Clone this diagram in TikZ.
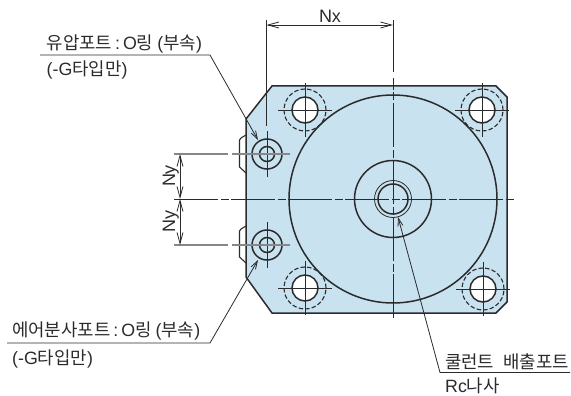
\documentclass[tikz,border=0pt]{standalone}
\usepackage{fontspec}
\setmainfont{Liberation Sans}
\newfontfamily\krfont{Noto Sans CJK KR}
\newcommand{\kr}[1]{{\krfont #1}}
\usetikzlibrary{arrows.meta}
\definecolor{bodyblue}{HTML}{C9E2F0}
\definecolor{inkline}{HTML}{2B2B2D}
\definecolor{greyline}{HTML}{85878A}
\tikzset{
  every node/.style={font=\fontsize{17.8}{20}\selectfont, text=inkline, inner sep=0pt},
  outline/.style={draw=inkline, line width=1.5pt},
  thinline/.style={draw=inkline, line width=0.8pt},
  extline/.style={draw=greyline, line width=1.3pt},
  centerline/.style={draw=inkline, line width=0.9pt, dash pattern=on 44pt off 2.5pt on 8pt off 2.5pt},
  hiddenline/.style={draw=inkline, line width=1.1pt, dash pattern=on 4.4pt off 2.2pt},
  leader/.style={thinline, -{Straight Barb[length=8pt,width=5pt]}},
  dimline/.style={draw=inkline, line width=0.8pt, {Straight Barb[length=11pt,width=6pt]}-{Straight Barb[length=11pt,width=6pt]}},
}
\begin{document}
\begin{tikzpicture}[x=1pt, y=-1pt]
  \useasboundingbox (0,0) rectangle (571,396);

  % body
  \draw [outline, fill=bodyblue] (246,119) -- (272,86) -- (496,86) -- (507,97) -- (507,302)
    -- (496,313) -- (272,313) -- (246,277) -- cycle;
  \foreach \ya/\yb in {135/173, 226/263}{
    \draw [outline, line width=1.1pt] (246,\ya) -- (241,\ya+3) -- (239.5,\ya+5) -- (239.5,\yb-6) -- (246,\yb);
  }

  % main bore
  \draw [outline] (393,199) circle (104pt);
  \draw [outline] (393,199) circle (38.5pt);
  \draw [outline] (393,199) circle (15pt);
  \draw [thinline] (393,199) circle (18.5pt);

  % mounting holes
  \foreach \n/\x/\y in {tl/305/110, tr/482/110, bl/305/288, br/483/289}{
    \draw [outline, fill=white] (\x,\y) circle (13pt);
    \draw [hiddenline] (\x,\y) circle (21pt);
    \coordinate (h\n) at (\x,\y);
    \draw [thinline] ([xshift=-27pt]h\n) -- ([xshift=27pt]h\n);
    \draw [thinline] ([yshift=-27pt]h\n) -- ([yshift=27pt]h\n);
  }

  % ports
  \foreach \n/\y in {pu/154, pl/245}{
    \coordinate (\n) at (267,\y);
    \draw [outline] (\n) circle (15pt);
    \draw [outline] (\n) circle (7.5pt);
    \draw [thinline] ([yshift=-23pt]\n) -- ([yshift=23pt]\n);
  }

  % center lines
  \coordinate (cc) at (393,199);
  \coordinate (ctop) at (393,20);
  \draw [centerline] (174,199) -- (514,199);
  \draw [thinline] (ctop) -- (393,72);
  \draw [centerline] (393,318) -- (393,78);
  \draw [thinline] (266.5,20) -- (266.5,126);

  % dimensions
  \coordinate (nxl) at (266.5,25);
  \coordinate (nxr) at (393,25);
  \draw [dimline] (nxl) -- (nxr);
  \node [anchor=base] (nxlabel) at (330,22.5) {\fontsize{18}{20}\selectfont Nx};

  \foreach \n/\y in {nu/154, nc/199, nl/245}{
    \coordinate (\n) at (180,\y);
  }
  \draw [extline] (174,154) -- (228,154);
  \draw [extline] (232,154) -- (290,154);
  \draw [extline] (174,245) -- (228,245);
  \draw [extline] (232,245) -- (290,245);
  \draw [dimline] (nu) -- (nc);
  \draw [dimline] (nc) -- (nl);
  \node [rotate=90, anchor=base] (nyu) at (175,176) {\fontsize{18}{20}\selectfont Ny};
  \node [rotate=90, anchor=base] (nyl) at (175,221) {\fontsize{18}{20}\selectfont Ny};

  % labels
  \node [anchor=base west] (hydlabel) at (46.5,49.5) {\kr{유압포트}\hspace{3pt}:\hspace{3pt}O\kr{링}\hspace{4pt}(\kr{부속})};
  \node [anchor=base west] (hydnote) at (46.5,76) {(-G\kr{타입만})};
  \node [anchor=base west] (airlabel) at (12,336.5) {\kr{에어분사포트}\hspace{3pt}:\hspace{3pt}O\kr{링}\hspace{4pt}(\kr{부속})};
  \node [anchor=base west] (airnote) at (12,364.5) {(-G\kr{타입만})};
  \node [anchor=base west] (coollabel) at (445,368) {\kr{쿨런트}\hspace{9pt}\kr{배출포트}};
  \node [anchor=base west] (coolnote) at (445,392.5) {Rc\kr{나사}};

  % leaders
  \coordinate (hydtail) at (40,55);
  \coordinate (hydknee) at (210,55);
  \coordinate (hydtip) at (258,140);
  \coordinate (airtail) at (7,343);
  \coordinate (airknee) at (210,343);
  \coordinate (airtip) at (258,260);
  \coordinate (cooltail) at (570,372.5);
  \coordinate (coolknee) at (440,372.5);
  \coordinate (cooltip) at (398,217);
  \draw [leader] (hydtail) -- (hydknee) -- (hydtip);
  \draw [leader] (airtail) -- (airknee) -- (airtip);
  \draw [leader] (cooltail) -- (coolknee) -- (cooltip);
\end{tikzpicture}
\end{document}
